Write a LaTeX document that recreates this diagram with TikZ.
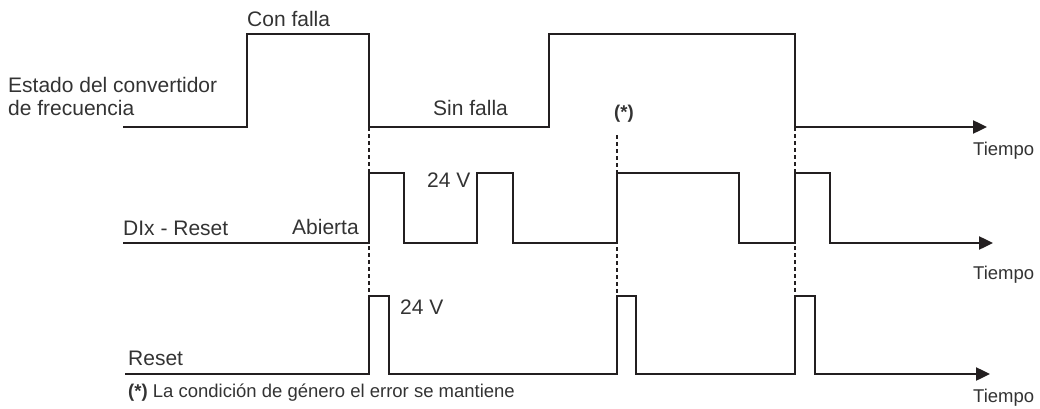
\documentclass[tikz,border=0pt]{standalone}
\usepackage{fontspec}
\setmainfont{Liberation Sans}
\usepackage{tikz}
\usetikzlibrary{arrows.meta}
\definecolor{sigline}{HTML}{231F20}
\definecolor{labeltext}{HTML}{333333}

\tikzset{
  signal/.style={line width=2.4pt, sigline, line join=miter,
    -{Triangle[length=14pt, width=13pt]}},
  marker/.style={line width=1.4pt, sigline, dash pattern=on 4pt off 3pt},
  lbl/.style={anchor=base west, inner sep=0pt, text=labeltext,
    font=\fontsize{21}{24}\selectfont},
  axislbl/.style={lbl, font=\fontsize{18.5}{22}\selectfont}
}

\begin{document}
\begin{tikzpicture}[x=1pt, y=-1pt]
    \useasboundingbox (0,0) rectangle (1040,409);

    % time markers
    \coordinate (m1top) at (369,127);
    \coordinate (m1bot) at (369,296);
    \coordinate (m2top) at (617,135);
    \coordinate (m2bot) at (617,296);
    \coordinate (m3top) at (795,127);
    \coordinate (m3bot) at (795,296);
    \draw[marker] (m1top) -- (m1bot);
    \draw[marker] (m2top) -- (m2bot);
    \draw[marker] (m3top) -- (m3bot);

    % estado del convertidor
    \draw[signal] (123,127) -- (247,127) -- (247,34) -- (369,34)
      -- (369,127) -- (549,127) -- (549,34) -- (795,34) -- (795,127)
      -- (987,127);

    % DIx - Reset
    \draw[signal] (123,243) -- (369,243) -- (369,173) -- (404,173)
      -- (404,243) -- (477,243) -- (477,173) -- (513,173) -- (513,243)
      -- (617,243) -- (617,173) -- (739,173) -- (739,243) -- (795,243)
      -- (795,173) -- (830,173) -- (830,243) -- (993,243);

    % Reset
    \draw[signal] (125,374) -- (369,374) -- (369,296) -- (389,296)
      -- (389,374) -- (617,374) -- (617,296) -- (636,296) -- (636,374)
      -- (795,374) -- (795,296) -- (815,296) -- (815,374) -- (990,374);

    % labels
    \node[lbl] (confalla) at (247,27) {Con falla};
    \node[lbl] (estado1) at (8,93) {Estado del convertidor};
    \node[lbl] (estado2) at (8,116) {de frecuencia};
    \node[lbl] (sinfalla) at (433,116) {Sin falla};
    \node[lbl, font=\bfseries\fontsize{18.5}{22}\selectfont] (ast) at (614,118) {(*)};
    \node[axislbl] (tiempo1) at (973,155) {Tiempo};
    \node[lbl] (dix) at (123,235) {DIx - Reset};
    \node[lbl] (abierta) at (292,234) {Abierta};
    \node[lbl] (volt1) at (427,187) {24 V};
    \node[axislbl] (tiempo2) at (973,279) {Tiempo};
    \node[lbl] (reset) at (128,365) {Reset};
    \node[lbl] (volt2) at (400,314) {24 V};
    \node[axislbl] (tiempo3) at (973,402) {Tiempo};
    \node[axislbl] (nota) at (128,397)
      {\textbf{(*)} La condición de género el error se mantiene};
\end{tikzpicture}
\end{document}
